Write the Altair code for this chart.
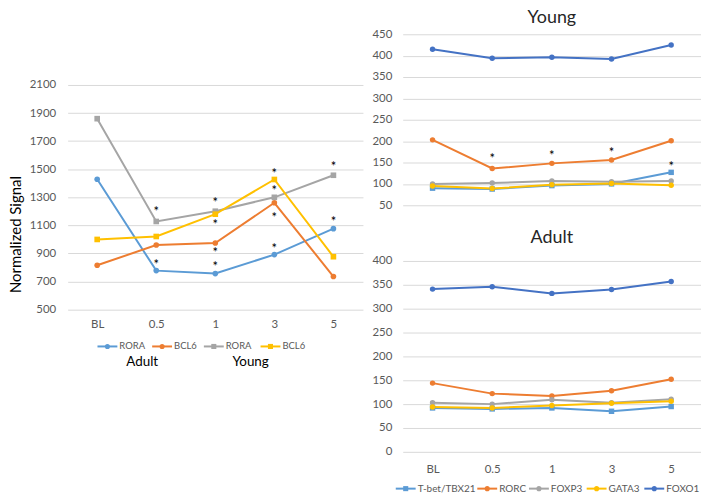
import altair as alt
import pandas as pd

cats = ["BL", "0.5", "1", "3", "5"]

# ---- Left panel (Normalized Signal) ----
adult_rora = [1429, 778, 757, 892, 1077]
adult_bcl6 = [816, 960, 975, 1261, 736]
young_rora = [1860, 1128, 1201, 1300, 1457]
young_bcl6 = [1000, 1021, 1180, 1427, 877]
left_keys = ["Adult RORA", "Adult BCL6", "Young RORA", "Young BCL6"]
left_labels = ["RORA", "BCL6", "RORA", "BCL6"]
left_colors = ["#5B9BD5", "#ED7D31", "#A5A5A5", "#FFC000"]
left_shapes = ["circle", "circle", "square", "square"]
left_star_cats = ["0.5", "0.5", "1", "1", "1", "1", "3", "3", "3", "3", "5", "5"]
left_star_vals = [1215, 836, 1281, 1122, 921, 827, 1487, 1364, 1175, 950, 1534, 1146]
left_ticks = [500, 700, 900, 1100, 1300, 1500, 1700, 1900, 2100]
group_labels = ["Adult", "Young"]

# ---- Right panels ----
genes = ["T-bet/TBX21", "RORC", "FOXP3", "GATA3", "FOXO1"]
gene_colors = ["#5B9BD5", "#ED7D31", "#A5A5A5", "#FFC000", "#4472C4"]
gene_shapes = ["square", "circle", "circle", "circle", "circle"]

young_tbet = [90, 88, 96, 100, 127]
young_rorc = [203, 136, 148, 156, 201]
young_foxp3 = [100, 102, 107, 105, 107]
young_gata3 = [95, 89, 98, 101, 97]
young_foxo1 = [415, 394, 396, 392, 425]
young_star_cats = ["0.5", "1", "3", "5"]
young_star_vals = [166, 171, 179, 147]

adult_tbet = [92, 90, 92, 85, 95]
adult_rorc = [144, 122, 117, 128, 152]
adult_foxp3 = [103, 100, 109, 103, 110]
adult_gata3 = [94, 92, 97, 102, 106]
adult_foxo1 = [341, 346, 332, 340, 357]

FONT = "Lato"
LABEL_COLOR = "#595959"
GRID = "#D9D9D9"

# legend layout (pixel offsets of each entry's line start, relative to the plot area)
LEFT_LEG_X = [30, 85, 137, 194]
LEFT_LEG_Y = 314
LEFT_GROUP_X = [75, 184]
LEFT_GROUP_Y = 330
RIGHT_LEG_X = [-7, 75, 127, 185, 243]
RIGHT_LEG_Y = 229
SEG = 20


def long_df(keys, arrays):
    rows = []
    for name, arr in zip(keys, arrays):
        for c, v in zip(cats, arr):
            rows.append({"t": c, "series": name, "v": v})
    return pd.DataFrame(rows)


def x_axis_enc(show=True, pad=9):
    ax = alt.Axis(title=None, domain=False, ticks=False, grid=False,
                  labelPadding=pad, labelAngle=0, labelFontSize=11.5,
                  labelColor=LABEL_COLOR, labelFont=FONT) if show else None
    return alt.X("t:N", sort=cats, scale=alt.Scale(domain=cats, padding=0.5), axis=ax)


def legend_layers(keys, labels, xs, y, color_scale, shape_scale, font_size):
    ldf = pd.DataFrame({"series": keys, "label": labels, "x0": xs})
    ldf["x1"] = ldf["x0"] + SEG
    ldf["xc"] = ldf["x0"] + SEG / 2
    ldf["xt"] = ldf["x1"] + 2
    base = alt.Chart(ldf)
    seg = base.mark_rule(strokeWidth=2).encode(
        x=alt.X("x0:Q", scale=None), x2="x1:Q", y=alt.value(y),
        color=alt.Color("series:N", scale=color_scale, legend=None))
    mk = base.mark_point(filled=True, opacity=1, size=26).encode(
        x=alt.X("xc:Q", scale=None), y=alt.value(y),
        color=alt.Color("series:N", scale=color_scale, legend=None),
        shape=alt.Shape("series:N", scale=shape_scale, legend=None))
    tx = base.mark_text(align="left", baseline="middle", font=FONT, fontSize=font_size,
                        color=LABEL_COLOR).encode(
        x=alt.X("xt:Q", scale=None), y=alt.value(y), text="label:N")
    return [seg, mk, tx]


# ---------------- Left chart ----------------
# plot area extends above 2100 (blank space as in the reference figure)
left_y = alt.Y("v:Q", scale=alt.Scale(domain=[500, 2461], nice=False, zero=False),
               axis=alt.Axis(title="Normalized Signal", values=left_ticks, grid=True,
                             format="d", labelOverlap=False, tickCount=9,
                             gridColor=GRID, domain=False, ticks=False, labelPadding=12,
                             labelFontSize=11.5, labelColor=LABEL_COLOR, labelFont=FONT,
                             titleFont=FONT, titleFontSize=15, titleFontWeight="normal",
                             titleColor="#000000", titlePadding=6, titleY=201))

df_left = long_df(left_keys, [adult_rora, adult_bcl6, young_rora, young_bcl6])
df_lstar = pd.DataFrame({"t": left_star_cats, "v": left_star_vals})
left_scale = alt.Scale(domain=left_keys, range=left_colors)
left_shape_scale = alt.Scale(domain=left_keys, range=left_shapes)
xl = x_axis_enc(True)

l_lines = alt.Chart(df_left).mark_line(strokeWidth=2).encode(
    x=xl, y=left_y, color=alt.Color("series:N", scale=left_scale, legend=None))
l_pts = alt.Chart(df_left).mark_point(filled=True, size=32, opacity=1).encode(
    x=xl, y=left_y,
    color=alt.Color("series:N", scale=left_scale, legend=None),
    shape=alt.Shape("series:N", scale=left_shape_scale, legend=None))
l_star = alt.Chart(df_lstar).mark_text(text="*", fontSize=13, font=FONT, color="#000000",
                                       baseline="middle", dy=3).encode(x=xl, y=left_y)
l_groups = alt.Chart(pd.DataFrame({"g": group_labels, "px": LEFT_GROUP_X})).mark_text(
    font=FONT, fontSize=13.5, color="#000000", baseline="middle").encode(
    text="g:N", x=alt.X("px:Q", scale=None), y=alt.value(LEFT_GROUP_Y))

left = alt.layer(
    l_lines, l_pts, l_star, l_groups,
    *legend_layers(left_keys, left_labels, LEFT_LEG_X, LEFT_LEG_Y, left_scale,
                   left_shape_scale, 9.5)
).properties(width=297, height=277)

# ---------------- Right charts ----------------
gene_scale = alt.Scale(domain=genes, range=gene_colors)
gene_shape_scale = alt.Scale(domain=genes, range=gene_shapes)


def right_panel(arrays, domain, ticks, title, show_x, with_legend, stars, h, toff):
    df = long_df(genes, arrays)
    y_enc = alt.Y("v:Q", scale=alt.Scale(domain=domain, nice=False, zero=False),
                  axis=alt.Axis(title=None, values=ticks, grid=True, gridColor=GRID,
                                format="d", labelOverlap=False, tickCount=9,
                                domain=False, ticks=False, labelPadding=11,
                                labelFontSize=11.5, labelColor=LABEL_COLOR, labelFont=FONT))
    xe = x_axis_enc(show_x, 12)
    lines = alt.Chart(df).mark_line(strokeWidth=2).encode(
        x=xe, y=y_enc, color=alt.Color("series:N", scale=gene_scale, legend=None))
    pts = alt.Chart(df).mark_point(filled=True, size=30, opacity=1).encode(
        x=xe, y=y_enc,
        color=alt.Color("series:N", scale=gene_scale, legend=None),
        shape=alt.Shape("series:N", scale=gene_shape_scale, legend=None))
    layers = [lines, pts]
    if stars is not None:
        sdf = pd.DataFrame({"t": stars[0], "v": stars[1]})
        layers.append(alt.Chart(sdf).mark_text(text="*", fontSize=13, font=FONT,
                                               color="#000000", baseline="middle", dy=3)
                      .encode(x=xe, y=y_enc))
    if with_legend:
        layers += legend_layers(genes, genes, RIGHT_LEG_X, RIGHT_LEG_Y, gene_scale,
                                gene_shape_scale, 10)
    return alt.layer(*layers).properties(
        width=300, height=h,
        title=alt.TitleParams(title, fontSize=18, font=FONT, fontWeight="normal",
                              color="#262626", offset=toff))


top = right_panel([young_tbet, young_rorc, young_foxp3, young_gata3, young_foxo1],
                  [50, 450], [50, 100, 150, 200, 250, 300, 350, 400, 450], "Young",
                  False, False, (young_star_cats, young_star_vals), 172, 1)
bottom = right_panel([adult_tbet, adult_rorc, adult_foxp3, adult_gata3, adult_foxo1],
                     [0, 400], [0, 50, 100, 150, 200, 250, 300, 350, 400], "Adult",
                     True, True, None, 192, 8)

right = alt.vconcat(top, bottom, spacing=18).resolve_scale(
    color="independent", shape="independent", x="independent", y="independent")

chart = alt.hconcat(left, right, spacing=8).resolve_scale(
    color="independent", shape="independent", x="independent", y="independent"
).properties(
    padding={"left": 0, "top": 0, "right": 0, "bottom": 0}
).configure_view(stroke=None).configure_title(anchor="middle")

chart.save("out.html", embed_options={"renderer": "svg", "actions": False})
